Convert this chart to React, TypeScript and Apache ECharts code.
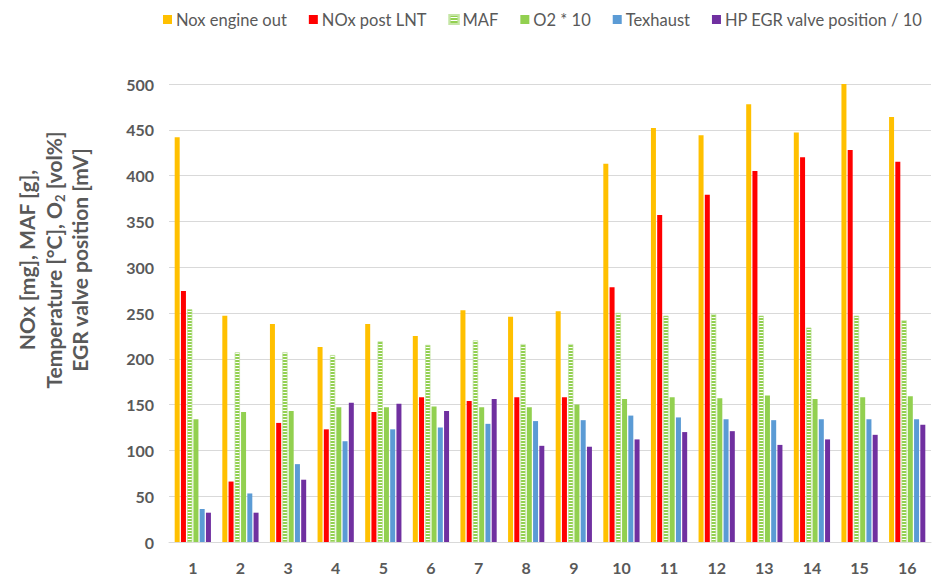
import React, { useEffect, useRef } from "react";
import * as echarts from "echarts";

const categories = ["1","2","3","4","5","6","7","8","9","10","11","12","13","14","15","16"];
const noxEngineOut = [442, 247, 238, 213, 238, 225, 253, 246, 252, 413, 452, 444, 478, 447, 500, 464];
const noxPostLNT = [274, 66, 130, 123, 142, 158, 154, 158, 158, 278, 357, 379, 405, 420, 428, 415];
const maf = [254, 207, 207, 204, 219, 215, 220, 216, 216, 250, 247, 249, 247, 234, 247, 242];
const o2x10 = [134, 142, 143, 147, 147, 148, 147, 147, 150, 156, 158, 157, 160, 156, 158, 159];
const texhaust = [36, 53, 85, 110, 123, 125, 129, 132, 133, 138, 136, 134, 133, 134, 134, 134];
const hpEgr = [32, 32, 68, 152, 151, 143, 156, 105, 104, 112, 120, 121, 106, 112, 117, 128];
const yTicks = { min: 0, max: 500, interval: 50 };

const FONT = "Lato, 'Open Sans', sans-serif";
const GRAY = "#595959";

export default function App() {
  const ref = useRef<HTMLDivElement>(null);
  useEffect(() => {
    if (!ref.current) return;
    const chart = echarts.init(ref.current, undefined, { renderer: "svg" });
    const bar = (name: string, data: number[], color: string, extra: any = {}) => ({
      name,
      type: "bar",
      data,
      barWidth: 5,
      barGap: "25%",
      itemStyle: { color, ...extra },
    });
    chart.setOption({
      animation: false,
      textStyle: { fontFamily: FONT },
      legend: {
        top: 11,
        left: 163,
        width: 769,
        padding: 0,
        itemWidth: 9,
        itemHeight: 9,
        itemGap: 22,
        icon: "rect",
        textStyle: { color: GRAY, fontSize: 16.5, fontFamily: FONT, padding: [0, 0, 0, -1] },
      },
      grid: { left: 169, right: 1, top: 84, bottom: 35, containLabel: false },
      xAxis: {
        type: "category",
        data: categories,
        axisLine: { lineStyle: { color: "#D9D9D9", width: 1 } },
        axisTick: { show: false },
        axisLabel: { color: GRAY, fontSize: 16, fontWeight: "bold", margin: 17, fontFamily: FONT },
      },
      yAxis: {
        type: "value",
        min: yTicks.min,
        max: yTicks.max,
        interval: yTicks.interval,
        axisLine: { show: false },
        axisTick: { show: false },
        splitLine: { lineStyle: { color: "#D9D9D9", width: 1 } },
        axisLabel: { color: GRAY, fontSize: 16, fontWeight: "bold", margin: 15, fontFamily: FONT },
      },
      graphic: [
        {
          type: "text",
          x: 53,
          y: 260,
          rotation: Math.PI / 2,
          style: {
            text: "NOx [mg], MAF [g],\nTemperature [°C], O{sub|2} [vol%]\nEGR valve position [mV]",
            align: "center",
            verticalAlign: "middle",
            fill: GRAY,
            fontSize: 21,
            fontWeight: "bold",
            fontFamily: FONT,
            lineHeight: 26.5,
            rich: {
              sub: { fontSize: 13, fontWeight: "bold", fill: GRAY, verticalAlign: "bottom", padding: [9, 0, 0, 0], fontFamily: FONT },
            },
          },
        },
      ],
      series: [
        bar("Nox engine out", noxEngineOut, "#FFC000"),
        bar("NOx post LNT", noxPostLNT, "#FF0000"),
        bar("MAF", maf, "#FFFFFF", {
          borderColor: "#C5E5A5",
          borderWidth: 0.5,
          decal: {
            symbol: "rect",
            color: "#92D050",
            dashArrayX: [1, 0],
            dashArrayY: [2, 1],
            rotation: 0,
            symbolSize: 1,
          },
        }),
        bar("O2 * 10", o2x10, "#92D050"),
        bar("Texhaust", texhaust, "#5B9BD5"),
        bar("HP EGR valve position / 10", hpEgr, "#7030A0"),
      ],
    });
    return () => chart.dispose();
  }, []);
  return <div ref={ref} style={{ width: 932, height: 577, position: "absolute", left: 0, top: 0 }} />;
}
